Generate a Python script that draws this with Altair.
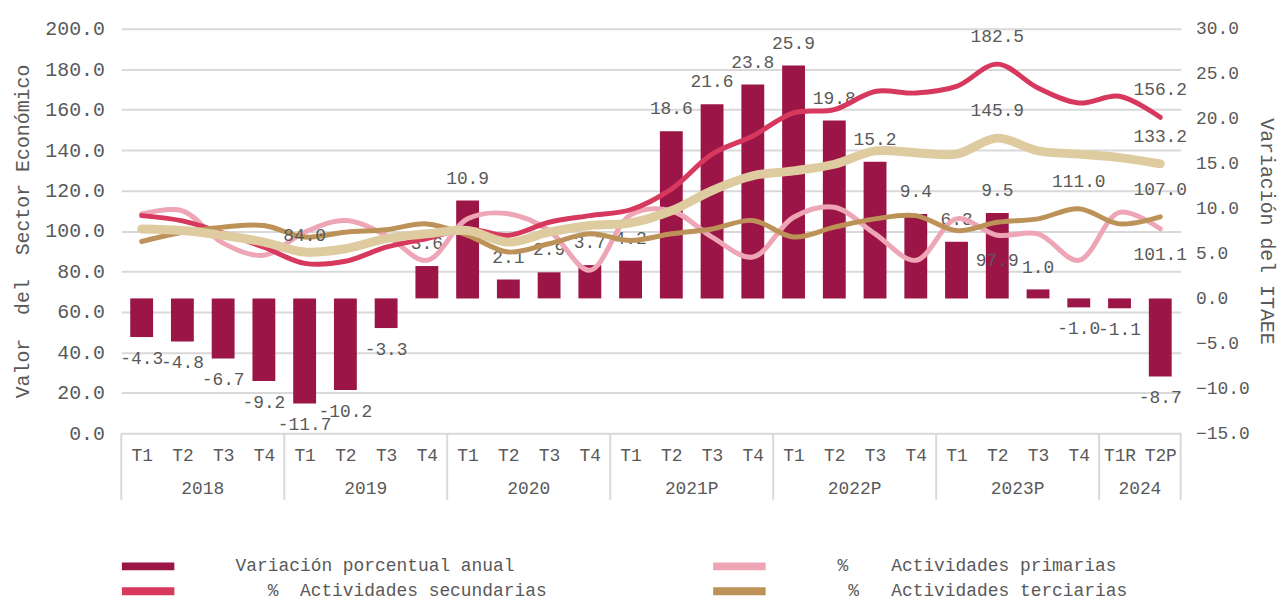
import altair as alt
import pandas as pd

# ---------------- data ----------------
quarters = ["T1", "T2", "T3", "T4"] * 6 + ["T1R", "T2P"]
years = ["2018", "2019", "2020", "2021P", "2022P", "2023P", "2024"]
year_sizes = [4, 4, 4, 4, 4, 4, 2]

variacion = [-4.3, -4.8, -6.7, -9.2, -11.7, -10.2, -3.3, 3.6,
             10.9, 2.1, 2.9, 3.7, 4.2, 18.6, 21.6, 23.8,
             25.9, 19.8, 15.2, 9.4, 6.3, 9.5, 1.0, -1.0,
             -1.1, -8.7]

primarias = [108.4, 110.0, 94.0, 88.0, 99.4, 105.2, 97.8, 85.5,
             106.0, 108.5, 100.2, 80.6, 108.0, 110.0, 97.0, 87.1,
             106.8, 111.7, 98.6, 85.5, 106.0, 97.9, 98.6, 85.5,
             109.2, 101.1]
secundarias = [107.6, 105.0, 99.0, 92.0, 84.0, 85.0, 92.0, 96.3,
               101.0, 97.8, 104.3, 107.6, 110.5, 120.7, 138.0, 147.0,
               158.4, 160.0, 169.0, 168.2, 171.5, 182.5, 170.7, 163.3,
               166.6, 156.2]
terciarias = [94.8, 99.4, 101.9, 102.7, 97.0, 99.4, 100.6, 103.5,
              97.8, 89.6, 93.7, 98.6, 95.3, 98.6, 101.0, 105.2,
              97.0, 101.9, 106.0, 107.6, 100.2, 104.3, 106.0, 111.0,
              103.5, 107.0]
total = [101.0, 100.2, 97.8, 94.5, 89.6, 91.2, 96.2, 98.6,
         100.2, 94.5, 99.4, 102.7, 104.0, 110.0, 120.0, 127.3,
         129.7, 133.0, 139.6, 138.7, 138.0, 145.9, 139.6, 138.0,
         136.3, 133.2]

NB = "\u00a0"
ZW = "\u200b"
S_VAR = "Variación porcentual anual"
S_PRI = ZW + NB + "%" + NB * 4 + "Actividades primarias"
S_SEC = ZW + NB * 3 + "%" + NB * 2 + "Actividades secundarias"
S_TER = ZW + NB * 2 + "%" + NB * 3 + "Actividades terciarias"
S_TOT = ZW + NB * 3 + "%" + NB + "Total"

# legend fills column by column: col 1 = Var, Sec, Tot ; col 2 = Pri, Ter
legend_domain = [S_VAR, S_SEC, S_TOT, S_PRI, S_TER]
legend_colors = ["#9B1646", "#D7385E", "#DFCBA0", "#EEA5B5", "#BC9259"]

# labelled points on the lines: (series, index)
labels_above = [(S_SEC, 4), (S_SEC, 21), (S_SEC, 25), (S_TOT, 21), (S_TOT, 25),
                (S_TER, 23), (S_TER, 25)]
labels_below = [(S_PRI, 21), (S_PRI, 25)]

# ---------------- tables ----------------
FONT = "Liberation Mono"
GRAY = "#595959"
GRID = "#d9d9d9"
FS = 18
n = len(quarters)
pos = [i + 0.5 for i in range(n)]

bar_df = pd.DataFrame({"pos": pos, "q": quarters, "var": variacion})
bar_df["label"] = bar_df["var"].map(lambda v: f"{v:.1f}")

series_order = [S_PRI, S_SEC, S_TER, S_TOT]
series_vals = {S_PRI: primarias, S_SEC: secundarias, S_TER: terciarias, S_TOT: total}
rows = []
for k, name in enumerate(series_order):
    for i, v in enumerate(series_vals[name]):
        rows.append({"pos": pos[i], "serie": name, "valor": v, "z": k})
line_df = pd.DataFrame(rows)
thin_df = line_df[line_df["serie"] != S_TOT]
thick_df = line_df[line_df["serie"] == S_TOT]


def lab_df(items):
    return pd.DataFrame([{"pos": pos[i], "valor": series_vals[s][i],
                          "label": f"{series_vals[s][i]:.1f}"} for s, i in items])


above_df = lab_df(labels_above)
below_df = lab_df(labels_below)

bounds = [0]
for s in year_sizes:
    bounds.append(bounds[-1] + s)
year_df = pd.DataFrame({"pos": [(bounds[k] + bounds[k + 1]) / 2 for k in range(len(years))],
                        "year": years})
sep_df = pd.DataFrame({"pos": bounds})

W, H = 1066, 407
xscale = alt.Scale(domain=[0, n], nice=False, zero=False, padding=0)
q_arr = "[" + ",".join(f"'{q}'" for q in quarters) + "]"
x_axis = alt.Axis(values=pos, labelExpr=f"{q_arr}[floor(datum.value)]", title=None,
                  grid=False, ticks=False, domain=False, labelPadding=13,
                  labelFont=FONT, labelFontSize=FS, labelColor=GRAY, labelAngle=0)
X = alt.X("pos:Q", scale=xscale, axis=x_axis)

# ---------------- bars (right axis) ----------------
yR_scale = alt.Scale(domain=[-15, 30], nice=False)
yR_axis = alt.Axis(orient="right", values=list(range(-15, 31, 5)), format=".1f",
                   title="Variación del ITAEE", grid=False, ticks=False, domain=False,
                   labelFont=FONT, labelFontSize=18, labelColor=GRAY, labelPadding=15,
                   titleFont=FONT, titleFontSize=20, titleColor=GRAY,
                   titleFontWeight="normal", titlePadding=7)
YR = alt.Y("var:Q", scale=yR_scale, axis=yR_axis)

bars = alt.Chart(bar_df).mark_bar(size=23, color="#9B1646").encode(x=X, y=YR)
bar_pos_txt = alt.Chart(bar_df).transform_filter("datum.var >= 0").mark_text(
    dy=-22, font=FONT, fontSize=FS, color=GRAY).encode(x=X, y=YR, text="label:N")
bar_neg_txt = alt.Chart(bar_df).transform_filter("datum.var < 0").mark_text(
    dy=22, font=FONT, fontSize=FS, color=GRAY).encode(x=X, y=YR, text="label:N")
bar_layer = alt.layer(bars, bar_pos_txt, bar_neg_txt)

# ---------------- lines (left axis) ----------------
yL_scale = alt.Scale(domain=[0, 200], nice=False)
yL_axis = alt.Axis(orient="left", values=list(range(0, 201, 20)), format=".1f",
                   title="Valor" + NB * 2 + "del" + NB * 2 + "Sector Económico",
                   grid=True, gridColor=GRID, gridWidth=2, ticks=False, domain=False,
                   labelFont=FONT, labelFontSize=20, labelColor=GRAY, labelPadding=17,
                   titleFont=FONT, titleFontSize=20, titleColor=GRAY,
                   titleFontWeight="normal", titlePadding=12)
YL = alt.Y("valor:Q", scale=yL_scale, axis=yL_axis)

COLOR = alt.Color("serie:N", sort=legend_domain,
                  scale=alt.Scale(domain=legend_domain, range=legend_colors),
                  legend=alt.Legend(
                      title=None, orient="none", legendX=18, legendY=532, columns=2,
                      columnPadding=150, rowPadding=-17, padding=0,
                      symbolType="M-6.6,0H6.6", symbolSize=64, symbolStrokeWidth=8,
                      labelFont=FONT, labelFontSize=FS, labelColor=GRAY,
                      labelOffset=79, labelLimit=0))

thin_lines = alt.Chart(thin_df).mark_line(
    interpolate="catmull-rom", strokeCap="round", strokeWidth=5).encode(
    x=X, y=YL, color=COLOR, order=alt.Order("pos:Q"), detail="serie:N")
thick_line = alt.Chart(thick_df).mark_line(
    interpolate="catmull-rom", strokeCap="round", strokeWidth=9).encode(
    x=X, y=YL, color=COLOR, order=alt.Order("pos:Q"))
txt_above = alt.Chart(above_df).mark_text(dy=-27, font=FONT, fontSize=FS, color=GRAY).encode(
    x=X, y=YL, text="label:N")
txt_below = alt.Chart(below_df).mark_text(dy=26, font=FONT, fontSize=FS, color=GRAY).encode(
    x=X, y=YL, text="label:N")
line_layer = alt.layer(thin_lines, thick_line, txt_above, txt_below)

# ---------------- x-axis decorations ----------------
seps = alt.Chart(sep_df).mark_rule(color=GRID, strokeWidth=2).encode(
    x=X, y=alt.value(H), y2=alt.value(H + 67))
year_txt = alt.Chart(year_df).mark_text(font=FONT, fontSize=FS, color=GRAY).encode(
    x=X, y=alt.value(H + 56), text="year:N")

chart = alt.layer(bar_layer, line_layer, seps, year_txt).resolve_scale(
    y="independent").properties(
    width=W, height=H,
    autosize=alt.AutoSizeParams(type="none"),
    padding={"left": 114, "top": 19, "right": 100, "bottom": 172},
).configure_view(stroke=None)

chart.save("out.html", embed_options={"renderer": "svg", "actions": False})
